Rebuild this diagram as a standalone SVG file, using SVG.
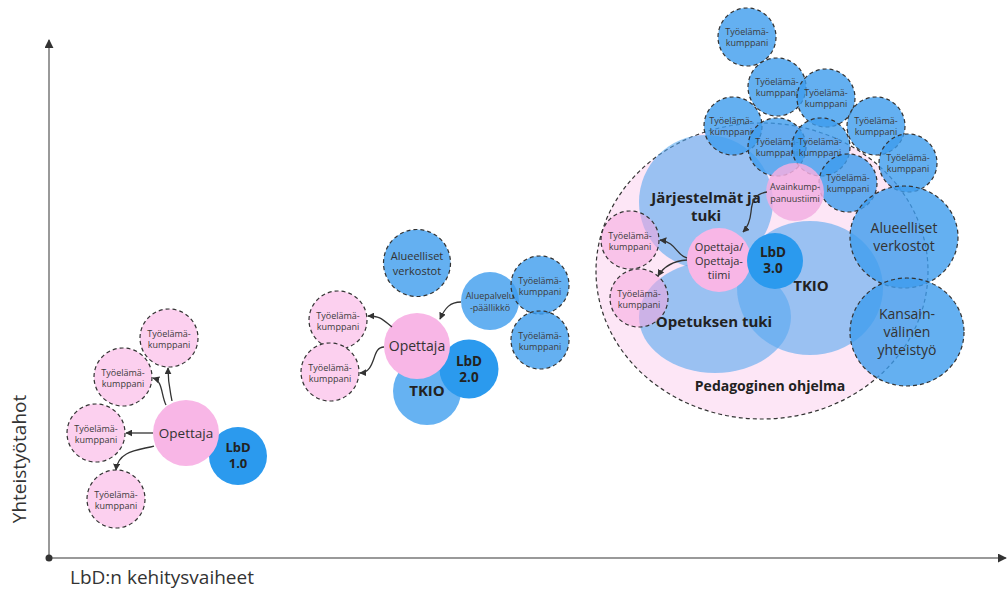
<svg xmlns="http://www.w3.org/2000/svg" width="1007" height="589" viewBox="0 0 1007 589">
<defs>
<style>
text{font-family:"Open Sans","Noto Sans",sans-serif;text-anchor:middle;fill:#333}
.dash{stroke:#333;stroke-width:1.2;stroke-dasharray:4 3}
.tp{fill:#fcd0ef}
.tpt{fill:#f6a6de;fill-opacity:.55}
.tb{fill:#3d9cee;fill-opacity:.8}
.lb{fill:#58a8f0;fill-opacity:.6}
.pk{fill:#f8b6e6}
.dk{fill:#2b9aee}
.t9{font-size:9px;fill:#3c3c3c}
.bd{font-weight:700;fill:#222}
.ar{fill:none;stroke:#333;stroke-width:1.3;marker-end:url(#ah)}
.ax{stroke:#777;stroke-width:1.5}
</style>
<marker id="ah" viewBox="0 0 10 10" refX="9" refY="5" markerWidth="7" markerHeight="7" markerUnits="userSpaceOnUse" orient="auto">
<path d="M0,0 L10,5 L0,10 z" fill="#333"/>
</marker>
<marker id="axh" viewBox="0 0 10 10" refX="9" refY="5" markerWidth="9" markerHeight="9" markerUnits="userSpaceOnUse" orient="auto">
<path d="M0,0 L10,5 L0,10 z" fill="#333"/>
</marker>
</defs>
<rect width="1007" height="589" fill="#fff"/>

<g id="axes">
<line class="ax" x1="49" y1="558" x2="49" y2="40" marker-end="url(#axh)"/>
<line class="ax" x1="49" y1="558" x2="1006" y2="558" marker-end="url(#axh)"/>
<circle cx="49" cy="558" r="3.5" fill="#333"/>
<text x="0" y="0" transform="translate(26,459) rotate(-90)" font-size="19">Yhteistyötahot</text>
<text x="162" y="584" font-size="19">LbD:n kehitysvaiheet</text>
</g>

<!-- Stage 1 -->
<g id="lbd1">
<circle class="dk" cx="238" cy="456" r="29"/>
<text class="bd" font-size="13"><tspan x="238" y="452">LbD</tspan><tspan x="238" dy="16">1.0</tspan></text>
</g>
<g id="opettaja1">
<circle class="pk" cx="186" cy="433" r="33"/>
<text x="186" y="438" font-size="13.5">Opettaja</text>
</g>
<g id="ty1a"><circle class="tp dash" cx="169" cy="338" r="29"/><text class="t9"><tspan x="169" y="337">Työelämä-</tspan><tspan x="169" dy="11">kumppani</tspan></text></g>
<g id="ty1b"><circle class="tp dash" cx="123" cy="377" r="29"/><text class="t9"><tspan x="123" y="376">Työelämä-</tspan><tspan x="123" dy="11">kumppani</tspan></text></g>
<g id="ty1c"><circle class="tp dash" cx="96" cy="433" r="29"/><text class="t9"><tspan x="96" y="432">Työelämä-</tspan><tspan x="96" dy="11">kumppani</tspan></text></g>
<g id="ty1d"><circle class="tp dash" cx="116" cy="499" r="29"/><text class="t9"><tspan x="116" y="498">Työelämä-</tspan><tspan x="116" dy="11">kumppani</tspan></text></g>

<!-- Stage 2 -->
<g id="tkio2">
<circle cx="427" cy="391" r="34" fill="#66b2f2"/>
</g>
<g id="lbd2">
<circle class="dk" cx="469" cy="369" r="29.5"/>
<text class="bd" font-size="13.5"><tspan x="469" y="365.5">LbD</tspan><tspan x="469" dy="16.5">2.0</tspan></text>
</g>
<text class="bd" x="427" y="396" font-size="15">TKIO</text>
<g id="opettaja2">
<circle class="pk" cx="417" cy="346" r="33"/>
<text x="417" y="351" font-size="14">Opettaja</text>
</g>
<g id="alue2"><circle class="tb dash" cx="417" cy="263" r="33.5"/><text font-size="11"><tspan x="417" y="260">Alueelliset</tspan><tspan x="417" dy="15">verkostot</tspan></text></g>
<g id="aluepalvelu"><circle class="tb" cx="490" cy="301" r="29"/><text class="t9"><tspan x="490" y="299">Aluepalvelu</tspan><tspan x="490" dy="12">-päällikkö</tspan></text></g>
<g id="ty2a"><circle class="tb dash" cx="540" cy="285" r="29"/><text class="t9"><tspan x="540" y="284">Työelämä-</tspan><tspan x="540" dy="11">kumppani</tspan></text></g>
<g id="ty2b"><circle class="tb dash" cx="540" cy="340" r="29"/><text class="t9"><tspan x="540" y="339">Työelämä-</tspan><tspan x="540" dy="11">kumppani</tspan></text></g>
<g id="ty2c"><circle class="tp dash" cx="338" cy="320" r="29"/><text class="t9"><tspan x="338" y="319">Työelämä-</tspan><tspan x="338" dy="11">kumppani</tspan></text></g>
<g id="ty2d"><circle class="tp dash" cx="330" cy="372" r="29"/><text class="t9"><tspan x="330" y="371">Työelämä-</tspan><tspan x="330" dy="11">kumppani</tspan></text></g>

<!-- Stage 3 -->
<g id="pedagoginen">
<ellipse class="dash" cx="762" cy="271" rx="166" ry="148" fill="#fde6f6"/>
<text class="bd" x="770" y="391" font-size="14">Pedagoginen ohjelma</text>
</g>
<g id="jarjestelmat">
<circle class="lb" cx="706" cy="202" r="67"/>
</g>
<g id="opetuksen">
<ellipse class="lb" cx="715" cy="317" rx="76" ry="56"/>
</g>
<g id="tkio3">
<ellipse class="lb" cx="810" cy="288" rx="73" ry="67"/>
</g>
<text class="bd" font-size="15"><tspan x="706" y="203">Järjestelmät ja</tspan><tspan x="706" dy="18">tuki</tspan></text>
<text class="bd" x="714" y="327" font-size="15">Opetuksen tuki</text>
<text class="bd" x="811" y="291" font-size="15">TKIO</text>
<g id="opettaja3">
<circle class="pk" cx="719" cy="260" r="32"/>
<text font-size="11"><tspan x="719" y="251">Opettaja/</tspan><tspan x="719" dy="14">Opettaja-</tspan><tspan x="719" dy="13.5">tiimi</tspan></text>
</g>
<g id="lbd3">
<circle class="dk" cx="775" cy="261" r="28"/>
<text class="bd" font-size="13.5"><tspan x="773" y="256.5">LbD</tspan><tspan x="773" dy="16.5">3.0</tspan></text>
</g>
<g id="ty3p1"><circle class="tpt dash" cx="630" cy="240" r="29"/><text class="t9"><tspan x="630" y="239">Työelämä-</tspan><tspan x="630" dy="11">kumppani</tspan></text></g>
<g id="ty3p2"><circle class="tpt dash" cx="639" cy="298" r="29"/><text class="t9"><tspan x="639" y="297">Työelämä-</tspan><tspan x="639" dy="11">kumppani</tspan></text></g>

<g id="ty3b1"><circle class="tb dash" cx="747" cy="37" r="29"/><text class="t9"><tspan x="747" y="35">Työelämä-</tspan><tspan x="747" dy="11">kumppani</tspan></text></g>
<g id="ty3b2"><circle class="tb dash" cx="777" cy="87" r="29"/><text class="t9"><tspan x="777" y="85">Työelämä-</tspan><tspan x="777" dy="11">kumppani</tspan></text></g>
<g id="ty3b3"><circle class="tb dash" cx="826" cy="98" r="29"/><text class="t9"><tspan x="826" y="96">Työelämä-</tspan><tspan x="826" dy="11">kumppani</tspan></text></g>
<g id="ty3b4"><circle class="tb dash" cx="733" cy="126" r="29"/><text class="t9"><tspan x="731" y="124">Työelämä-</tspan><tspan x="731" dy="11">kumppani</tspan></text></g>
<g id="ty3b5"><circle class="tb dash" cx="777" cy="147" r="29"/><text class="t9"><tspan x="777" y="145">Työelämä-</tspan><tspan x="777" dy="11">kumppani</tspan></text></g>
<g id="ty3b6"><circle class="tb dash" cx="821" cy="147" r="29"/><text class="t9"><tspan x="820" y="145">Työelämä-</tspan><tspan x="820" dy="11">kumppani</tspan></text></g>
<g id="ty3b7"><circle class="tb dash" cx="876" cy="126" r="29"/><text class="t9"><tspan x="876" y="124">Työelämä-</tspan><tspan x="876" dy="11">kumppani</tspan></text></g>
<g id="ty3b8"><circle class="tb dash" cx="908" cy="163" r="29"/><text class="t9"><tspan x="908" y="161">Työelämä-</tspan><tspan x="908" dy="11">kumppani</tspan></text></g>
<g id="ty3b9"><circle class="tb dash" cx="848" cy="183" r="29"/><text class="t9"><tspan x="848" y="181">Työelämä-</tspan><tspan x="848" dy="11">kumppani</tspan></text></g>
<g id="avain"><circle cx="795" cy="192" r="29" fill="#f2aee2" fill-opacity=".85"/><text class="t9"><tspan x="795" y="190">Avainkump-</tspan><tspan x="795" dy="12">panuustiimi</tspan></text></g>
<g id="alue3"><ellipse class="tb dash" cx="904" cy="237" rx="54" ry="51"/><text font-size="14"><tspan x="904" y="233">Alueelliset</tspan><tspan x="904" dy="18">verkostot</tspan></text></g>
<g id="kansain"><ellipse class="tb dash" cx="907" cy="332" rx="57" ry="54"/><text font-size="14"><tspan x="907" y="319">Kansain-</tspan><tspan x="907" dy="18">välinen</tspan><tspan x="907" dy="18">yhteistyö</tspan></text></g>

<g id="connectors">
<path class="ar" d="M172,401 C170,390 168,384 168,368"/>
<path class="ar" d="M166,405 C161,395 163,381 153,378"/>
<path class="ar" d="M153,433 L126,433"/>
<path class="ar" d="M154,446 C140,450 118,450 116,470"/>
<path class="ar" d="M392,327 C381,318 379,316 368,316"/>
<path class="ar" d="M384,347 C371,347 377,372 360,373"/>
<path class="ar" d="M461,302 C450,302 445,308 440,319"/>
<path class="ar" d="M767,192 C755,194 752,200 751,212 C750,222 747,228 743,232"/>
<path class="ar" d="M687,258 C677,256 676,242 660,240"/>
<path class="ar" d="M687,260 C673,261 664,266 658,276"/>
</g>
</svg>
